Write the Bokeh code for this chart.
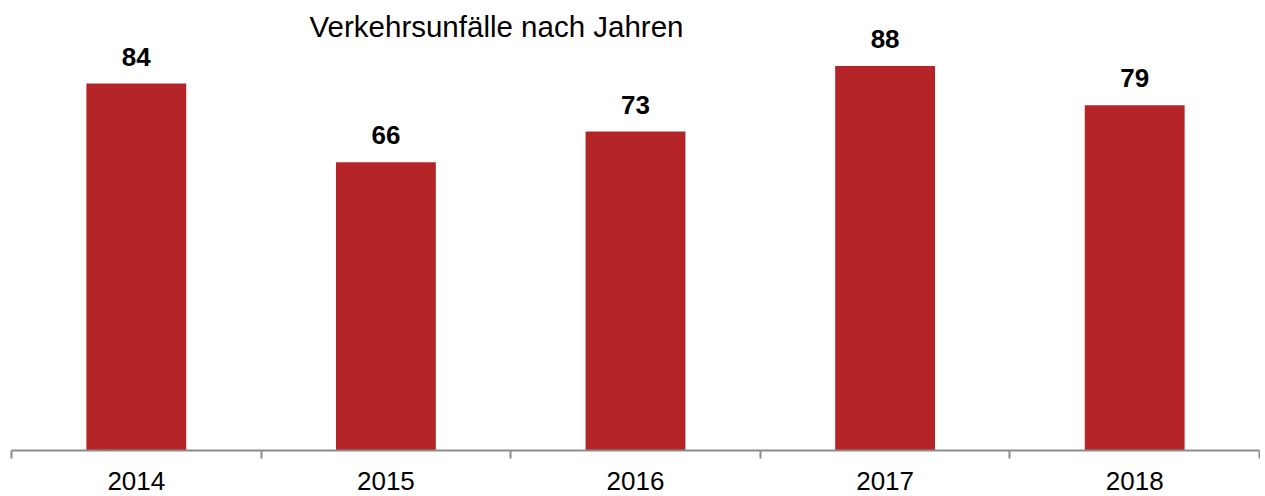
from bokeh.plotting import figure
from bokeh.models import (ColumnDataSource, Range1d, LinearAxis,
                          FixedTicker, LabelSet, Label)
from bokeh.core.properties import value
from bokeh.embed import file_html
from bokeh.resources import INLINE

years = ["2014", "2015", "2016", "2017", "2018"]
accidents = [84, 66, 73, 88, 79]
title_text = "Verkehrsunfälle nach Jahren"

FONT = "Liberation Sans"
BAR = "#B52427"
AXIS = "#8C8C8C"

# each year occupies one unit slot; bars sit at slot centres
slot_centres = [i + 0.5 for i in range(len(years))]
slot_bounds = list(range(len(years) + 1))

src = ColumnDataSource(dict(x=slot_centres, year=years, value=accidents,
                            label=[str(v) for v in accidents]))

p = figure(width=1260, height=494, output_backend="svg", toolbar_location=None,
           x_range=Range1d(0, len(years)), y_range=Range1d(0, 103),
           x_axis_location=None, y_axis_location=None,
           min_border_left=11, min_border_right=1, min_border_top=0,
           min_border_bottom=44, tools="")
p.outline_line_color = None
p.grid.visible = False
p.background_fill_color = "white"
p.border_fill_color = "white"

p.vbar(x="x", top="value", width=0.4, source=src, color=BAR, line_color=None)

labels = LabelSet(x="x", y="value", text="label", source=src, y_offset=18,
                  text_align="center", text_baseline="alphabetic",
                  text_font=value(FONT), text_font_size=value("26px"),
                  text_font_style=value("bold"), text_color=value("black"))
p.add_layout(labels)

ax = LinearAxis(ticker=FixedTicker(ticks=slot_centres, minor_ticks=slot_bounds),
                major_label_overrides={c: y for c, y in zip(slot_centres, years)})
ax.axis_line_color = AXIS
ax.axis_line_width = 2
ax.major_tick_line_color = None
ax.major_tick_out = 0
ax.major_tick_in = 0
ax.minor_tick_line_color = AXIS
ax.minor_tick_line_width = 2
ax.minor_tick_out = 8
ax.minor_tick_in = 0
ax.major_label_standoff = 13
ax.major_label_text_font = FONT
ax.major_label_text_font_size = "26px"
ax.major_label_text_color = "black"
p.add_layout(ax, "below")

title = Label(x=485, y=424, x_units="screen", y_units="screen", text=title_text,
              text_align="center", text_baseline="alphabetic", text_font=FONT,
              text_font_size="29.5px", text_color="black")
p.add_layout(title)

open("out.html", "w").write(file_html(p, INLINE))
